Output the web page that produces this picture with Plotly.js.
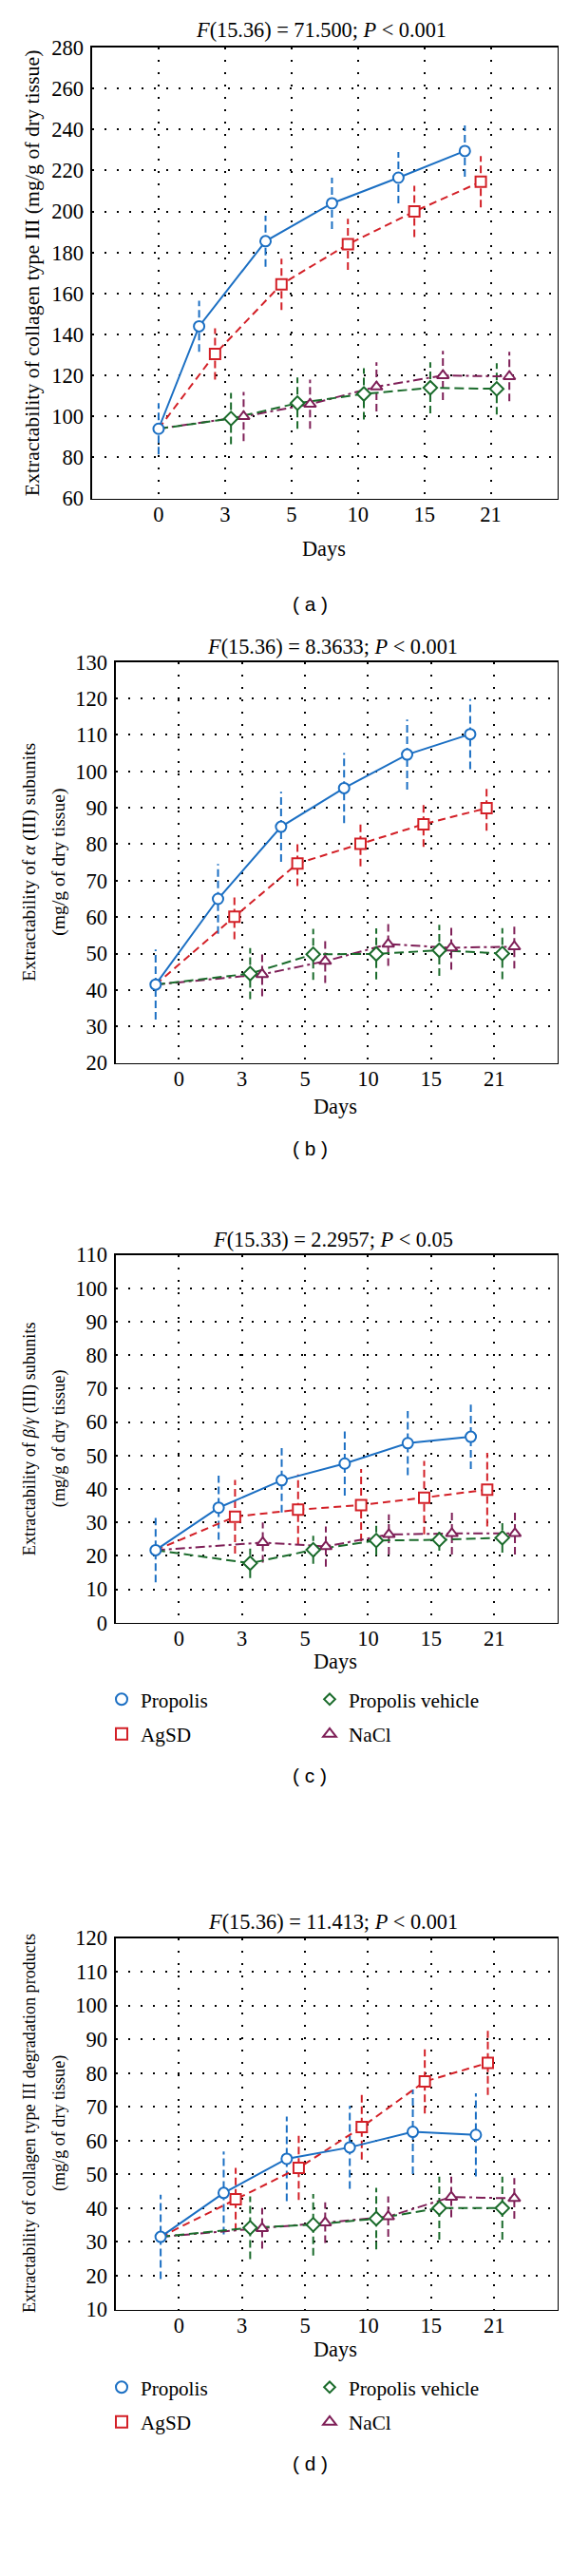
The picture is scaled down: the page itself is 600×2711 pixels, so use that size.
<!DOCTYPE html>
<html>
<head>
<meta charset="utf-8">
<script src="https://cdn.plot.ly/plotly-3.0.1.min.js"></script>
<style>html,body{margin:0;padding:0;background:#fff;}#chart{width:600px;height:2711px;}</style>
</head>
<body>
<div id="chart"></div>
<script>
// ---------- DATA ----------
const days = ['0', '3', '5', '10', '15', '21'];
const seriesNames = ['Propolis', 'AgSD', 'Propolis vehicle', 'NaCl'];

// Panel (a): collagen type III
const aTitle = '<i>F</i>(15.36) = 71.500; <i>P</i> &lt; 0.001';
const aDay0 = 94, aDay0Err = 12.5;
const aPropolis = [144, 185.5, 204, 216.5, 229.5];
const aPropolisErr = [12.5, 12.5, 12.5, 12.5, 12.5];
const aAgSD = [130.5, 164.5, 184, 200, 214.5];
const aAgSDErr = [12.5, 12.5, 12.5, 12.5, 12.5];
const aVehicle = [99, 106.5, 111, 114, 113.5];
const aVehicleErr = [12.5, 12.5, 12.5, 12.5, 12.5];
const aNaCl = [100, 106, 114.5, 120, 119.5];
const aNaClErr = [12, 12, 12, 12, 12];

// Panel (b): alpha(III) subunits
const bTitle = '<i>F</i>(15.36) = 8.3633; <i>P</i> &lt; 0.001';
const bDay0 = 41.5, bDay0Err = 9.6;
const bPropolis = [65, 84.8, 95.4, 104.6, 110.2];
const bPropolisErr = [9.6, 9.6, 9.6, 9.6, 9.6];
const bAgSD = [60.1, 74.7, 80.1, 85.5, 89.9];
const bAgSDErr = [6.2, 6.2, 6.2, 6.2, 6.2];
const bVehicle = [44.5, 49.8, 49.9, 50.9, 50];
const bVehicleErr = [7, 7, 7, 7, 7];
const bNaCl = [44.3, 47.9, 52.6, 51.6, 51.9];
const bNaClErr = [6, 6, 6, 6, 6];

// Panel (c): beta/gamma(III) subunits
const cTitle = '<i>F</i>(15.33) = 2.2957; <i>P</i> &lt; 0.05';
const cDay0 = 21.7, cDay0Err = 9.6;
const cPropolis = [34.4, 42.6, 47.6, 53.7, 55.6];
const cPropolisErr = [9.6, 9.6, 9.6, 9.6, 9.6];
const cAgSD = [31.7, 33.8, 35.2, 37.4, 39.8];
const cAgSDErr = [11, 10.5, 10.8, 11, 11];
const cVehicle = [17.8, 21.8, 24.6, 24.8, 25.4];
const cVehicleErr = [4.4, 4.2, 4.4, 3.3, 4.4];
const cNaCl = [24, 22.8, 26.4, 26.7, 26.7];
const cNaClErr = [6, 6, 6, 6.3, 6.3];

// Panel (d): degradation products
const dTitle = '<i>F</i>(15.36) = 11.413; <i>P</i> &lt; 0.001';
const dDay0 = 31.5, dDay0Err = 12.5;
const dPropolis = [44.5, 54.6, 58, 62.6, 61.7];
const dPropolisErr = [12.3, 12.5, 12.3, 12.5, 12.3];
const dAgSD = [42.6, 51.9, 64, 77.5, 83];
const dAgSDErr = [9.3, 9.5, 9.6, 9.5, 9.5];
const dVehicle = [34.2, 35.1, 36.9, 40, 40];
const dVehicleErr = [9.3, 9.1, 9.1, 9.3, 9.3];
const dNaCl = [34, 35.7, 37.5, 43.3, 42.9];
const dNaClErr = [6, 6, 6, 6, 6];

// ---------- STYLE / LAYOUT ----------
const W = 600, H = 2711;
const SERIF = 'Liberation Serif, Times New Roman, serif';
const SANS = 'Liberation Sans, Arial, sans-serif';
const styles = [
  {color: '#1b6fc3', symbol: 'circle', dash: 'solid', errDash: '8px,4px'},
  {color: '#d32027', symbol: 'square', dash: '8px,5px', errDash: '8px,4px'},
  {color: '#1a6b2b', symbol: 'diamond', dash: '10px,5px', errDash: '8px,4px'},
  {color: '#7e1f57', symbol: 'triangle-up', dash: '10px,4px,3px,4px', errDash: '8px,4px'}
];

const panels = [
  {title: aTitle, day0: aDay0, day0Err: aDay0Err,
   vals: [aPropolis, aAgSD, aVehicle, aNaCl], errs: [aPropolisErr, aAgSDErr, aVehicleErr, aNaClErr],
   yRange: [60, 280], dtick: 20, ytitle: ['Extractability of collagen type III (mg/g of dry tissue)'],
   ytitleSize: 21.8, box: {l: 97, r: 586.5, t: 50, b: 524.6}, day0Off: 0, offs: [-0.39, -0.15, 0.09, 0.28],
   titleY: 31, daysY: 577, labelY: 636, label: '( a )', legends: null},
  {title: bTitle, day0: bDay0, day0Err: bDay0Err,
   vals: [bPropolis, bAgSD, bVehicle, bNaCl], errs: [bPropolisErr, bAgSDErr, bVehicleErr, bNaClErr],
   yRange: [20, 130], dtick: 10, ytitle: ['Extractability of <i>α</i> (III) subunits', '(mg/g of dry tissue)'],
   ytitleSize: 19.6, box: {l: 122, r: 586.5, t: 696.7, b: 1118.6}, day0Off: -0.37, offs: [-0.38, -0.12, 0.13, 0.32],
   titleY: 680, daysY: 1165, labelY: 1209, label: '( b )', legends: null},
  {title: cTitle, day0: cDay0, day0Err: cDay0Err,
   vals: [cPropolis, cAgSD, cVehicle, cNaCl], errs: [cPropolisErr, cAgSDErr, cVehicleErr, cNaClErr],
   yRange: [0, 110], dtick: 10, ytitle: ['Extractability of <i>β</i>/<i>γ</i> (III) subunits', '(mg/g of dry tissue)'],
   ytitleSize: 18.3, box: {l: 122, r: 586.5, t: 1320.6, b: 1707.8}, day0Off: -0.37, offs: [-0.37, -0.11, 0.13, 0.33],
   titleY: 1304, daysY: 1748, labelY: 1868, label: '( c )', legends: ['legend', 'legend2'], legendTop: 1768},
  {title: dTitle, day0: dDay0, day0Err: dDay0Err,
   vals: [dPropolis, dAgSD, dVehicle, dNaCl], errs: [dPropolisErr, dAgSDErr, dVehicleErr, dNaClErr],
   yRange: [10, 120], dtick: 10, ytitle: ['Extractability of collagen type III degradation products', '(mg/g of dry tissue)'],
   ytitleSize: 18.1, box: {l: 122, r: 586.5, t: 2039.5, b: 2430.5}, day0Off: -0.29, offs: [-0.29, -0.10, 0.13, 0.32],
   titleY: 2022, daysY: 2472, labelY: 2592, label: '( d )', legends: ['legend3', 'legend4'], legendTop: 2492}
];

const px = x => x / W;
const py = y => 1 - y / H;

const traces = [];
const layout = {
  width: W, height: H, margin: {l: 0, r: 0, t: 0, b: 0},
  paper_bgcolor: '#fff', plot_bgcolor: '#fff', showlegend: true,
  font: {family: SERIF, color: '#000', size: 20},
  annotations: []
};

panels.forEach((p, k) => {
  const n = k === 0 ? '' : String(k + 1);
  const xa = 'x' + n, ya = 'y' + n;
  const catIdx = days.slice(1).map((d, i) => i + 1);
  const day0x = 0 + p.day0Off;

  // dashed error bars built from value +/- error
  p.vals.forEach((vals, s) => {
    const ex = [], ey = [];
    if (s === 0) { ex.push(day0x, day0x, null); ey.push(p.day0 - p.day0Err, p.day0 + p.day0Err, null); }
    vals.forEach((v, i) => {
      const x = catIdx[i] + p.offs[s];
      ex.push(x, x, null); ey.push(v - p.errs[s][i], v + p.errs[s][i], null);
    });
    traces.push({type: 'scatter', mode: 'lines', x: ex, y: ey, xaxis: xa, yaxis: ya,
      line: {color: styles[s].color, width: 2, dash: styles[s].errDash},
      hoverinfo: 'skip', showlegend: false});
  });
  // connecting lines (all series start from the common day-0 point)
  [3, 2, 1, 0].forEach(s => {
    const lx = [day0x].concat(catIdx.map(c => c + p.offs[s]));
    const ly = [p.day0].concat(p.vals[s]);
    traces.push({type: 'scatter', mode: 'lines', x: lx, y: ly, xaxis: xa, yaxis: ya,
      line: {color: styles[s].color, width: 2, dash: styles[s].dash}, hoverinfo: 'skip', showlegend: false});
  });
  // markers
  [3, 2, 1, 0].forEach(s => {
    let mx = catIdx.map(c => c + p.offs[s]);
    let my = p.vals[s].slice();
    if (s === 0) { mx = [day0x].concat(mx); my = [p.day0].concat(my); }
    traces.push({type: 'scatter', mode: 'markers', x: mx, y: my, xaxis: xa, yaxis: ya, name: seriesNames[s],
      marker: {symbol: styles[s].symbol, size: 11, color: '#fff', line: {color: styles[s].color, width: 2}},
      showlegend: false});
  });
  // legend entries
  if (p.legends) {
    [0, 1, 2, 3].forEach(s => {
      traces.push({type: 'scatter', mode: 'markers', x: [null], y: [null], xaxis: xa, yaxis: ya,
        name: seriesNames[s], legend: p.legends[s < 2 ? 0 : 1], legendgroup: 'g' + k + s,
        marker: {symbol: styles[s].symbol, size: s === 2 ? 9 : 12, color: '#fff', line: {color: styles[s].color, width: 2}},
        showlegend: true});
    });
    p.legends.forEach((lg, j) => {
      layout[lg] = {x: px(j === 0 ? 108 : 327), y: py(p.legendTop), xanchor: 'left', yanchor: 'top',
        orientation: 'v', bgcolor: 'rgba(0,0,0,0)', font: {family: SERIF, size: 21.2, color: '#000'},
        tracegroupgap: 6, traceorder: 'grouped', itemwidth: 30};
    });
  }

  layout['xaxis' + n] = {
    domain: [px(p.box.l), px(p.box.r)], anchor: ya, range: [-1, 6],
    tickmode: 'array', tickvals: days.map((d, i) => i), ticktext: days,
    showgrid: true, gridcolor: '#000', gridwidth: 2, griddash: '2px,11px',
    showline: true, mirror: true, linecolor: '#000', linewidth: 1.6, ticks: '', zeroline: false,
    ticklabelstandoff: -4,
    tickfont: {family: SERIF, size: 22.5, color: '#000'}, fixedrange: true
  };
  layout['yaxis' + n] = {
    domain: [py(p.box.b), py(p.box.t)], anchor: xa, range: p.yRange, dtick: p.dtick, tick0: 0,
    showgrid: true, gridcolor: '#000', gridwidth: 2, griddash: '2px,11px',
    showline: true, mirror: true, linecolor: '#000', linewidth: 1.6, ticks: '', zeroline: false,
    ticklabelstandoff: 3,
    tickfont: {family: SERIF, size: 22.5, color: '#000'}, fixedrange: true
  };

  const cx = (p.box.l + p.box.r) / 2;
  layout.annotations.push({text: p.title, xref: 'paper', yref: 'paper', x: px(cx - 4), y: py(p.titleY),
    xanchor: 'center', yanchor: 'middle', showarrow: false, font: {family: SERIF, size: 22.3, color: '#000'}});
  layout.annotations.push({text: 'Days', xref: 'paper', yref: 'paper', x: px(cx - 1), y: py(p.daysY),
    xanchor: 'center', yanchor: 'middle', showarrow: false, font: {family: SERIF, size: 22.3, color: '#000'}});
  layout.annotations.push({text: p.label, xref: 'paper', yref: 'paper', x: px(326), y: py(p.labelY),
    xanchor: 'center', yanchor: 'middle', showarrow: false, font: {family: SANS, size: 20.8, color: '#000'}});
  const cy = (p.box.t + p.box.b) / 2;
  if (p.ytitle.length === 1) {
    layout.annotations.push({text: p.ytitle[0], xref: 'paper', yref: 'paper', x: px(34), y: py(cy),
      xanchor: 'center', yanchor: 'middle', textangle: -90, showarrow: false,
      font: {family: SERIF, size: p.ytitleSize, color: '#000'}});
  } else {
    layout.annotations.push({text: p.ytitle[0], xref: 'paper', yref: 'paper', x: px(31), y: py(cy),
      xanchor: 'center', yanchor: 'middle', textangle: -90, showarrow: false,
      font: {family: SERIF, size: p.ytitleSize, color: '#000'}});
    layout.annotations.push({text: p.ytitle[1], xref: 'paper', yref: 'paper', x: px(62), y: py(cy),
      xanchor: 'center', yanchor: 'middle', textangle: -90, showarrow: false,
      font: {family: SERIF, size: p.ytitleSize, color: '#000'}});
  }
});

Plotly.newPlot('chart', traces, layout, {displayModeBar: false, staticPlot: true});
</script>
</body>
</html>
